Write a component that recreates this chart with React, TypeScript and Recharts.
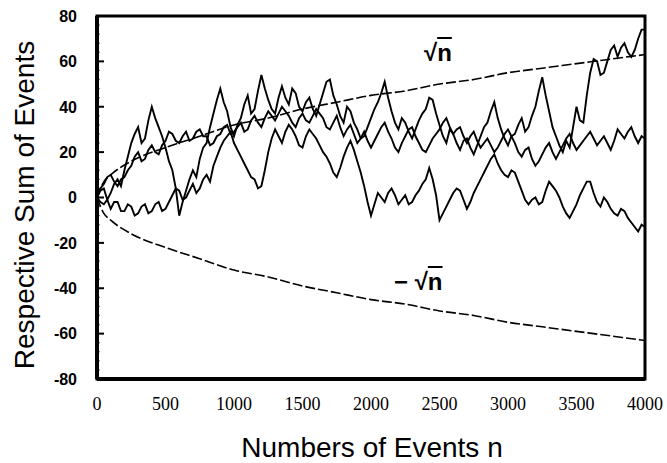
import React from 'react';
import { LineChart, Line, XAxis, YAxis, ReferenceArea } from 'recharts';

// Three random-walk traces, read every 25 events from the picture (one row = 250 events)
const walkTop = [
  0, 3, 4, -1, 2, 6, 8, 5, 12, 18,
  24, 28, 31, 24, 26, 34, 40, 35, 31, 27,
  22, 16, 12, 4, -8, -2, 3, 8, 12, 9,
  17, 22, 24, 31, 37, 43, 48, 42, 38, 31,
  27, 32, 35, 41, 45, 37, 39, 47, 54, 48,
  43, 39, 37, 44, 49, 44, 41, 48, 46, 40,
  38, 42, 44, 39, 36, 41, 46, 51, 52, 45,
  41, 36, 33, 40, 38, 33, 30, 26, 27, 31,
  35, 39, 42, 46, 51, 44, 38, 33, 30, 35,
  33, 29, 26, 30, 34, 37, 39, 44, 43, 37,
  32, 27, 24, 30, 28, 24, 21, 25, 26, 22,
  19, 23, 27, 31, 33, 38, 42, 35, 30, 26,
  23, 27, 28, 32, 35, 29, 31, 36, 40, 47,
  53, 45, 38, 31, 27, 23, 20, 25, 22, 31,
  40, 34, 33, 45, 55, 61, 60, 54, 55, 60,
  65, 67, 62, 66, 68, 64, 62, 65, 70, 74,
  74,
];
const walkBottom = [
  0, -2, -3, -1, -5, -2, -2, -6, -6, -3,
  -4, -8, -7, -4, -3, -7, -6, -3, -2, -6,
  -5, -2, 1, 4, 3, -1, 0, 3, 6, 2,
  4, 8, 10, 7, 14, 18, 22, 25, 27, 29,
  24, 21, 18, 15, 12, 9, 8, 4, 5, 12,
  20, 26, 30, 27, 24, 29, 32, 30, 27, 23,
  22, 27, 30, 28, 26, 23, 20, 18, 15, 11,
  9, 13, 18, 22, 25, 21, 16, 11, 5, -2,
  -8, -3, 2, 0, -2, 2, 4, 1, -3, -1,
  1, -3, -2, 1, 3, 6, 8, 13, 8, 1,
  -10, -7, -4, -1, 2, 4, 3, -1, -5, -2,
  2, 5, 8, 11, 14, 17, 19, 15, 12, 10,
  9, 12, 11, 7, 3, -1, -3, -1, 0, -3,
  -2, 3, 7, 5, 3, 0, -4, -7, -9, -6,
  -3, 1, 4, 7, 7, 2, -2, -4, 0, -2,
  -5, -7, -8, -5, -6, -9, -11, -13, -15, -12,
  -13,
];
const walkMiddle = [
  0, 4, 6, 9, 10, 7, 5, 8, 9, 12,
  14, 18, 20, 16, 17, 21, 23, 20, 19, 23,
  25, 29, 28, 25, 24, 27, 29, 25, 26, 29,
  30, 27, 27, 23, 24, 27, 28, 31, 32, 28,
  29, 31, 33, 29, 30, 34, 36, 33, 31, 35,
  38, 36, 34, 37, 40, 38, 36, 33, 31, 35,
  37, 34, 33, 36, 39, 37, 35, 31, 30, 33,
  36, 31, 27, 30, 32, 28, 24, 26, 29, 25,
  22, 25, 28, 31, 33, 29, 26, 22, 20, 24,
  27, 30, 31, 27, 24, 21, 20, 23, 26, 28,
  30, 33, 35, 31, 28, 30, 31, 27, 24, 27,
  29, 25, 22, 24, 26, 23, 20, 22, 25, 28,
  30, 27, 24, 20, 18, 21, 22, 17, 14, 16,
  19, 22, 24, 20, 17, 20, 23, 26, 28, 24,
  21, 23, 25, 27, 29, 26, 23, 25, 27, 24,
  21, 25, 30, 28, 26, 29, 31, 27, 24, 27,
  26,
];
const WALK_STEP = 25;

// Envelope curves
const boundEvents = [0, 50, 100, 250, 500, 750, 1000, 1250, 1500, 1750, 2000, 2250, 2500, 2750, 3000, 3250, 3500, 3750, 4000];
const upperBound = [0, 7, 10, 16, 22, 27, 32, 35, 39, 42, 45, 47, 50, 52, 55, 57, 59, 61, 63];
const lowerBound = [0, -7, -10, -16, -22, -27, -32, -35, -39, -42, -45, -47, -50, -52, -55, -57, -59, -61, -63];

const xTicks = [0, 500, 1000, 1500, 2000, 2500, 3000, 3500, 4000];
const yMajorTicks = [-80, -60, -40, -20, 0, 20, 40, 60, 80];
const yMinorStep = 4;

const toWalk = (vals: number[]) => vals.map((v, i) => ({ n: i * WALK_STEP, v }));
const toBound = (vals: number[]) => vals.map((v, i) => ({ n: boundEvents[i], v }));

const yAllTicks: number[] = [];
for (let t = yMajorTicks[0]; t <= yMajorTicks[yMajorTicks.length - 1]; t += yMinorStep) yAllTicks.push(t);

const YTick = (props: any) => {
  const { x, y, payload } = props;
  const v = payload.value;
  const major = yMajorTicks.includes(v);
  return (
    <g>
      <line x1={x} x2={x + (major ? 7 : 2.5)} y1={y} y2={y} stroke="#000" strokeWidth={major ? 2 : 1.3} />
      {major && (
        <text x={x - 20} y={y} dy="0.36em" textAnchor="end" fontFamily="Liberation Sans, Arial, sans-serif" fontWeight="bold" fontSize={16} fill="#000">
          {String(v)}
        </text>
      )}
    </g>
  );
};

const XTick = (props: any) => {
  const { x, y, payload } = props;
  return (
    <text x={x} y={y + 31} textAnchor="middle" fontFamily="Liberation Serif, Times New Roman, serif" fontSize={18} fill="#000">
      {String(payload.value)}
    </text>
  );
};

export default function App() {
  const sans = 'Liberation Sans, Arial, sans-serif';
  return (
    <div style={{ position: 'absolute', left: 0, top: 0, width: 667, height: 463, background: '#fff' }}>
      <LineChart width={667} height={463} margin={{ top: 16, right: 22, left: 0, bottom: 0 }}>
        <XAxis
          dataKey="n"
          type="number"
          domain={[0, 4000]}
          ticks={xTicks}
          tick={<XTick />}
          tickLine={false}
          tickSize={0}
          tickMargin={0}
          height={84}
          axisLine={{ stroke: '#000', strokeWidth: 4 }}
          allowDuplicatedCategory={false}
        />
        <YAxis
          type="number"
          domain={[-80, 80]}
          ticks={yAllTicks}
          tick={<YTick />}
          tickLine={false}
          tickSize={0}
          tickMargin={0}
          width={97}
          interval={0}
          axisLine={{ stroke: '#000', strokeWidth: 4 }}
        />
        <ReferenceArea x1={0} x2={4000} y1={-80} y2={80} fill="none" stroke="#000" strokeWidth={3} ifOverflow="visible" />
        <Line data={toBound(upperBound)} dataKey="v" type="monotone" stroke="#000" strokeWidth={1.6} strokeDasharray="10 3" dot={false} isAnimationActive={false} />
        <Line data={toBound(lowerBound)} dataKey="v" type="monotone" stroke="#000" strokeWidth={1.6} strokeDasharray="10 3" dot={false} isAnimationActive={false} />
        <Line data={toWalk(walkMiddle)} dataKey="v" type="linear" stroke="#000" strokeWidth={1.9} dot={false} isAnimationActive={false} />
        <Line data={toWalk(walkBottom)} dataKey="v" type="linear" stroke="#000" strokeWidth={1.9} dot={false} isAnimationActive={false} />
        <Line data={toWalk(walkTop)} dataKey="v" type="linear" stroke="#000" strokeWidth={1.9} dot={false} isAnimationActive={false} />
      </LineChart>
      <div style={{ position: 'absolute', left: 424, top: 41, fontFamily: sans, fontWeight: 'bold', fontSize: 24, lineHeight: '24px', color: '#000', whiteSpace: 'nowrap' }}>
        √<span style={{ textDecoration: 'overline' }}>n</span>
      </div>
      <div style={{ position: 'absolute', left: 394, top: 270, fontFamily: sans, fontWeight: 'bold', fontSize: 24, lineHeight: '24px', color: '#000', whiteSpace: 'nowrap' }}>
        − √<span style={{ textDecoration: 'overline' }}>n</span>
      </div>
      <div style={{ position: 'absolute', left: 172, top: 432, width: 400, textAlign: 'center', fontFamily: sans, fontSize: 28, lineHeight: '32px', color: '#000', whiteSpace: 'nowrap' }}>
        Numbers of Events n
      </div>
      <div style={{ position: 'absolute', left: -145, top: 189, width: 340, height: 32, textAlign: 'center', fontFamily: sans, fontSize: 28, lineHeight: '32px', color: '#000', whiteSpace: 'nowrap', transform: 'rotate(-90deg)' }}>
        Respective Sum of Events
      </div>
    </div>
  );
}
